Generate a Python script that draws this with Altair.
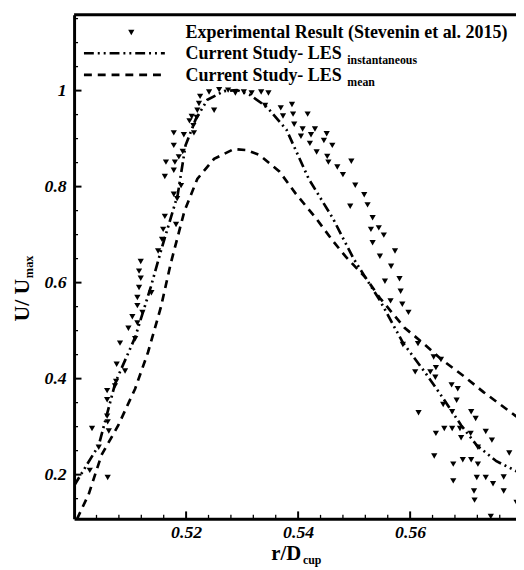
import altair as alt
import pandas as pd

# ---------------- data ----------------
exp_x = [0.5119, 0.5116, 0.5119, 0.5116, 0.5113, 0.5113, 0.5122, 0.5104, 0.5113, 0.5097,
         0.5109, 0.5082, 0.5076, 0.5091, 0.5075, 0.5073, 0.5059, 0.5059, 0.5059, 0.5060,
         0.5032, 0.5062, 0.5044, 0.5028, 0.5060, 0.5138,
         0.5225, 0.5241, 0.5259, 0.5275, 0.5288, 0.5303, 0.5317, 0.5334, 0.5347,
         0.5223, 0.5250, 0.5220, 0.5210, 0.5219, 0.5206, 0.5213, 0.5214, 0.5178, 0.5196,
         0.5178, 0.5194, 0.5164, 0.5180, 0.5187, 0.5162, 0.5178, 0.5191, 0.5178, 0.5184,
         0.5182, 0.5162, 0.5159, 0.5157, 0.5150,
         0.5341, 0.5369, 0.5389, 0.5373, 0.5391, 0.5393,
         0.5417, 0.5408, 0.5430, 0.5405, 0.5423, 0.5451, 0.5446, 0.5421, 0.5461, 0.5433,
         0.5452, 0.5454, 0.5470, 0.5495, 0.5480, 0.5502, 0.5518, 0.5493, 0.5524, 0.5533,
         0.5530, 0.5544, 0.5553, 0.5533, 0.5573, 0.5546,
         0.5566, 0.5581, 0.5555, 0.5583, 0.5565, 0.5586, 0.5597, 0.5614, 0.5587, 0.5642,
         0.5655, 0.5646, 0.5636, 0.5609, 0.5645, 0.5674, 0.5685, 0.5683, 0.5659, 0.5615,
         0.5675, 0.5709, 0.5717, 0.5661, 0.5675, 0.5689, 0.5646, 0.5691, 0.5708, 0.5735,
         0.5746, 0.5721, 0.5643, 0.5677, 0.5694, 0.5709, 0.5721, 0.5777, 0.5767, 0.5677,
         0.5719, 0.5735, 0.5748, 0.5714, 0.5767, 0.5715, 0.5790, 0.5744]
exp_y = [0.644, 0.624, 0.609, 0.590, 0.569, 0.552, 0.538, 0.529, 0.516, 0.505,
         0.483, 0.474, 0.430, 0.416, 0.394, 0.385, 0.375, 0.356, 0.322, 0.310,
         0.296, 0.291, 0.257, 0.209, 0.194, 0.579,
         0.988, 0.997, 1.002, 1.001, 0.995, 0.997, 0.995, 0.997, 0.995,
         0.973, 0.959, 0.959, 0.946, 0.944, 0.937, 0.927, 0.912, 0.912, 0.908,
         0.886, 0.873, 0.851, 0.851, 0.862, 0.821, 0.834, 0.802, 0.784, 0.775,
         0.721, 0.738, 0.711, 0.690, 0.666,
         0.969, 0.964, 0.971, 0.947, 0.951, 0.930,
         0.951, 0.920, 0.920, 0.905, 0.908, 0.910, 0.896, 0.890, 0.886, 0.872,
         0.863, 0.851, 0.841, 0.853, 0.825, 0.803, 0.783, 0.759, 0.762, 0.735,
         0.711, 0.714, 0.699, 0.683, 0.666, 0.655,
         0.634, 0.608, 0.603, 0.582, 0.562, 0.555, 0.538, 0.473, 0.471, 0.445,
         0.440, 0.423, 0.414, 0.414, 0.403, 0.387, 0.379, 0.355, 0.346, 0.329,
         0.331, 0.331, 0.317, 0.296, 0.296, 0.296, 0.286, 0.277, 0.286, 0.290,
         0.272, 0.257, 0.239, 0.222, 0.231, 0.231, 0.222, 0.245, 0.195, 0.187,
         0.194, 0.194, 0.181, 0.166, 0.166, 0.147, 0.142, 0.113]

inst_x = [0.5000, 0.5044, 0.5074, 0.5109, 0.5137, 0.5155, 0.5185, 0.5199, 0.5217, 0.5238,
          0.5268, 0.5291, 0.5314, 0.5344, 0.5379, 0.5419, 0.5462, 0.5499, 0.5520, 0.5546,
          0.5587, 0.5626, 0.5656, 0.5691, 0.5719, 0.5754, 0.5790]
inst_y = [0.177, 0.261, 0.393, 0.486, 0.591, 0.666, 0.783, 0.886, 0.940, 0.981,
          0.999, 1.001, 0.991, 0.966, 0.919, 0.816, 0.734, 0.650, 0.611, 0.563,
          0.475, 0.414, 0.364, 0.303, 0.261, 0.228, 0.207]

mean_x = [0.5005, 0.5026, 0.5049, 0.5079, 0.5109, 0.5132, 0.5155, 0.5173, 0.5197, 0.5220,
          0.5250, 0.5285, 0.5308, 0.5331, 0.5367, 0.5396, 0.5432, 0.5462, 0.5485, 0.5520,
          0.5546, 0.5590, 0.5620, 0.5656, 0.5696, 0.5731, 0.5790]
mean_y = [0.107, 0.159, 0.241, 0.303, 0.379, 0.455, 0.549, 0.642, 0.749, 0.816,
          0.858, 0.878, 0.876, 0.866, 0.831, 0.785, 0.734, 0.687, 0.654, 0.611,
          0.568, 0.506, 0.477, 0.440, 0.405, 0.372, 0.321]

x_major = [0.52, 0.54, 0.56]
x_minor = [0.504, 0.508, 0.512, 0.516, 0.524, 0.528, 0.532, 0.536,
           0.544, 0.548, 0.552, 0.556, 0.564, 0.568, 0.572, 0.576]
y_major = [0.2, 0.4, 0.6, 0.8, 1.0]
y_minor = [0.15, 0.25, 0.3, 0.35, 0.45, 0.5, 0.55, 0.65, 0.7, 0.75,
           0.85, 0.9, 0.95, 1.05, 1.1, 1.15]

legend_labels = ["Experimental Result (Stevenin et al. 2015)",
                 "Current Study- LES", "Current Study- LES"]
legend_subs = ["instantaneous", "mean"]

# ---------------- layout ----------------
W, H = 448, 511
FONT = "Liberation Serif"
xs = alt.Scale(domain=[0.5, 0.5789], nice=False, zero=False)
ys = alt.Scale(domain=[0.108, 1.158], nice=False, zero=False)

x_axis = alt.Axis(values=x_major, format=".2f", ticks=False, grid=False, title=None,
                  domain=True, domainWidth=3, domainColor="black", labelFont=FONT,
                  labelFontWeight="bold", labelFontStyle="italic", labelFontSize=18,
                  labelColor="black", labelPadding=5, labelFlush=False)
y_axis = alt.Axis(values=y_major, format="~g", ticks=False, grid=False, title=None,
                  domain=True, domainWidth=3, domainColor="black", labelFont=FONT,
                  labelFontWeight="bold", labelFontStyle="italic", labelFontSize=18,
                  labelColor="black", labelPadding=8, labelFlush=False)

X = alt.X("x:Q", scale=xs, axis=x_axis)
Y = alt.Y("y:Q", scale=ys, axis=y_axis)

DASHDOT = [10, 4, 2, 4, 2, 4]
DASH = [8, 6]

exp_df = pd.DataFrame({"x": exp_x, "y": exp_y})
inst_df = pd.DataFrame({"x": inst_x, "y": inst_y})
mean_df = pd.DataFrame({"x": mean_x, "y": mean_y})

pts = alt.Chart(exp_df).mark_point(shape="triangle-down", filled=True, size=40,
                                   color="black", opacity=1, clip=True).encode(x=X, y=Y)
inst = alt.Chart(inst_df).mark_line(color="black", strokeWidth=2.7, strokeDash=DASHDOT,
                                    clip=True).encode(x=X, y=Y)
mean = alt.Chart(mean_df).mark_line(color="black", strokeWidth=2.7, strokeDash=DASH,
                                    clip=True).encode(x=X, y=Y)

top_border = alt.Chart(pd.DataFrame({"a": [0]})).mark_rule(color="black", strokeWidth=3).encode(
    y=alt.value(0), x=alt.value(0), x2=alt.value(W))

xmaj = alt.Chart(pd.DataFrame({"x": x_major})).mark_rule(color="black", strokeWidth=2).encode(
    x=X, y=alt.value(H), y2=alt.value(H - 7.5))
xmin = alt.Chart(pd.DataFrame({"x": x_minor})).mark_rule(color="black", strokeWidth=1.3).encode(
    x=X, y=alt.value(H), y2=alt.value(H - 4))
ymaj = alt.Chart(pd.DataFrame({"y": y_major})).mark_rule(color="black", strokeWidth=2).encode(
    y=Y, x=alt.value(0), x2=alt.value(7.5))
ymin = alt.Chart(pd.DataFrame({"y": y_minor})).mark_rule(color="black", strokeWidth=1.3).encode(
    y=Y, x=alt.value(0), x2=alt.value(4))

one = pd.DataFrame({"a": [0]})

def txt(text, x, y, size=18.2, align="left", angle=0):
    return alt.Chart(one).mark_text(text=text, font=FONT, fontWeight="bold", fontSize=size,
                                    align=align, baseline="alphabetic",
                                    angle=angle, color="black").encode(
        x=alt.value(x), y=alt.value(y))

# legend
leg_pt = alt.Chart(one).mark_point(shape="triangle-down", filled=True, size=40,
                                   color="black", opacity=1).encode(
    x=alt.value(58), y=alt.value(18))
leg_l1 = alt.Chart(one).mark_rule(color="black", strokeWidth=2.7, strokeDash=DASHDOT).encode(
    x=alt.value(10), x2=alt.value(92), y=alt.value(39))
leg_l2 = alt.Chart(one).mark_rule(color="black", strokeWidth=2.7, strokeDash=DASH).encode(
    x=alt.value(10), x2=alt.value(92), y=alt.value(61))
leg_t1 = txt(legend_labels[0], 113, 24)
leg_t2 = txt(legend_labels[1], 113, 45)
leg_s2 = txt(legend_subs[0], 277, 50, size=12)
leg_t3 = txt(legend_labels[2], 113, 67)
leg_s3 = txt(legend_subs[1], 277, 72, size=12)

# axis titles
xt = txt("r/D", 200, 552.5, size=21)
xt_sub = txt("cup", 232, 556.5, size=12)
yt = txt("U/ U", -46, 311, size=22, angle=270)
yt_sub = txt("max", -42, 267, size=12.5, angle=270)

chart = alt.layer(
    pts, inst, mean, top_border, xmaj, xmin, ymaj, ymin,
    leg_pt, leg_l1, leg_l2, leg_t1, leg_t2, leg_s2, leg_t3, leg_s3,
    xt, xt_sub, yt, yt_sub
).properties(
    width=W, height=H,
    autosize=alt.AutoSizeParams(type="none"),
    padding={"left": 67, "top": 3, "right": 0, "bottom": 45},
).configure_view(stroke=None).configure(background="white")

chart.save("out.html", embed_options={"renderer": "svg", "actions": False})
